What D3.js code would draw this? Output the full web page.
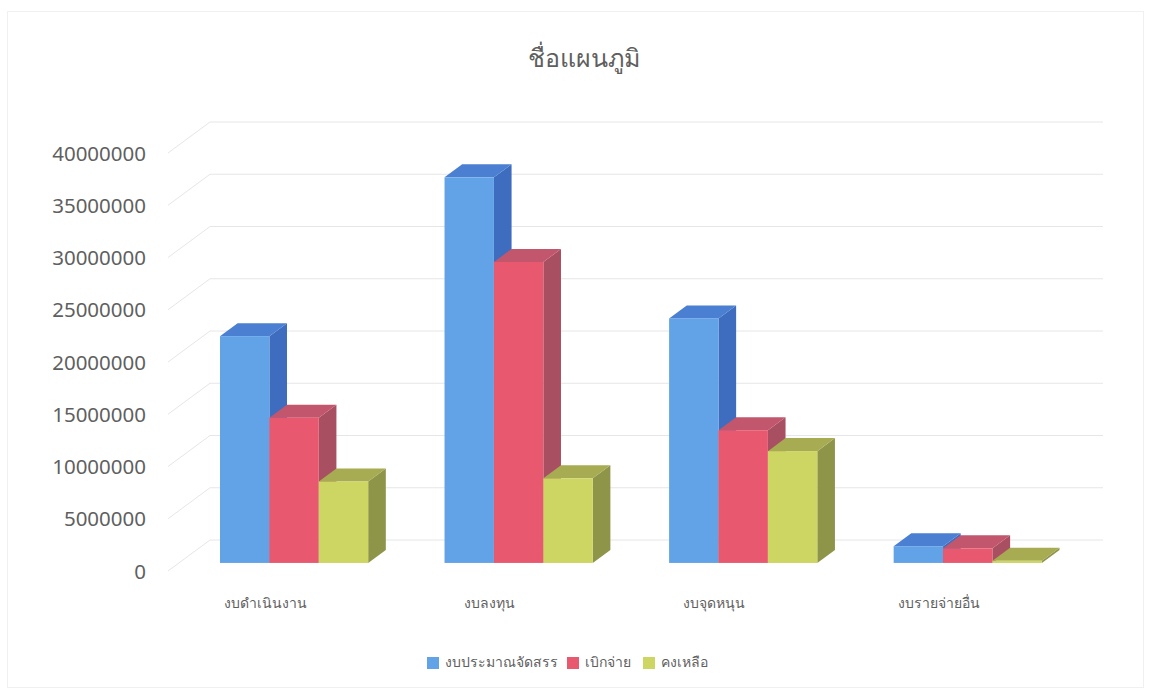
<!DOCTYPE html>
<html>
<head>
<meta charset="utf-8">
<script src="https://cdn.jsdelivr.net/npm/d3@7"></script>
<style>
  body { margin: 0; background: #fff; }
  text { font-family: "Noto Sans", "DejaVu Sans", sans-serif; fill: #5f5f5f; }
</style>
</head>
<body>
<div class="barchart"></div>
<script>
const categories = ['งบดำเนินงาน', 'งบลงทุน', 'งบจุดหนุน', 'งบรายจ่ายอื่น'];
const seriesNames = ['งบประมาณจัดสรร', 'เบิกจ่าย', 'คงเหลือ'];
const allocated = [21700000, 36900000, 23400000, 1600000];
const disbursed = [13900000, 28800000, 12700000, 1400000];
const remaining = [7800000, 8100000, 10700000, 200000];
const yTicks = [0, 5000000, 10000000, 15000000, 20000000, 25000000, 30000000, 35000000, 40000000];

const colors = [
    { front: '#62a3e8', top: '#4a7fd2', side: '#3e6dc0' },
    { front: '#e8596f', top: '#c2566c', side: '#a94f62' },
    { front: '#cdd563', top: '#a7ab52', side: '#8f9548' }
];

const width = 1151, height = 695;
const svg = d3.select('.barchart').append('svg')
    .attr('width', width)
    .attr('height', height);

// faint frame of the chart area
svg.append('rect')
    .attr('x', 7.5).attr('y', 11.5)
    .attr('width', 1136).attr('height', 676)
    .attr('fill', 'none')
    .attr('stroke', '#f0f0f0');

// 3D depth vector (front floor edge -> back wall)
const depth = { dx: 42, dy: -31 };
const barFront = 0.26, barBack = 0.68;

const y = d3.scaleLinear()
    .domain([0, 40000000])
    .range([571, 153]);

const x0 = d3.scaleBand()
    .domain(categories)
    .range([172, 1068])
    .paddingInner(0.34)
    .paddingOuter(0.165);

const x1 = d3.scaleBand()
    .domain(seriesNames)
    .range([0, x0.bandwidth()]);

const gridX0 = 168, gridX1 = 1061;

// gridlines: short slanted floor part + back wall line
const grid = svg.append('g').attr('stroke', '#e6e6e6').attr('fill', 'none');
yTicks.forEach(t => {
    grid.append('path')
        .attr('d', `M${gridX0},${y(t)} L${gridX0 + depth.dx},${y(t) + depth.dy} L${gridX1 + depth.dx},${y(t) + depth.dy}`);
});

// y axis labels
svg.append('g').selectAll('text')
    .data(yTicks)
    .join('text')
    .attr('x', 146)
    .attr('y', d => y(d) + 2)
    .attr('text-anchor', 'end')
    .attr('dominant-baseline', 'middle')
    .style('font-size', '20.5px')
    .text(d => d);

// bars
const series = [allocated, disbursed, remaining];
const ox = depth.dx * barFront, oy = depth.dy * barFront;
const ddx = depth.dx * (barBack - barFront), ddy = depth.dy * (barBack - barFront);

categories.forEach((cat, ci) => {
    const g = svg.append('g');
    series.forEach((vals, si) => {
        const c = colors[si];
        const bx = x0(cat) + x1(seriesNames[si]) + ox;
        const bw = x1.bandwidth();
        const yt = y(vals[ci]) + oy;
        const yb = y(0) + oy;
        // side face
        g.append('path')
            .attr('d', `M${bx + bw},${yt} L${bx + bw + ddx},${yt + ddy} L${bx + bw + ddx},${yb + ddy} L${bx + bw},${yb} Z`)
            .attr('fill', c.side);
        // top face
        g.append('path')
            .attr('d', `M${bx},${yt} L${bx + bw},${yt} L${bx + bw + ddx},${yt + ddy} L${bx + ddx},${yt + ddy} Z`)
            .attr('fill', c.top);
        // front face
        g.append('rect')
            .attr('x', bx).attr('y', yt)
            .attr('width', bw).attr('height', Math.max(0.5, yb - yt))
            .attr('fill', c.front);
    });
});

// category labels
svg.append('g').selectAll('text')
    .data(categories)
    .join('text')
    .attr('x', d => x0(d) + x0.bandwidth() / 2 - 18)
    .attr('y', 604)
    .attr('text-anchor', 'middle')
    .attr('dominant-baseline', 'middle')
    .style('font-size', '14px')
    .text(d => d);

// title
svg.append('text')
    .attr('x', 584)
    .attr('y', 60)
    .attr('text-anchor', 'middle')
    .attr('dominant-baseline', 'middle')
    .style('font-size', '25px')
    .text('ชื่อแผนภูมิ');

// legend
const legendX = [427, 567, 643];
const legend = svg.append('g');
seriesNames.forEach((name, i) => {
    legend.append('rect')
        .attr('x', legendX[i]).attr('y', 657)
        .attr('width', 12).attr('height', 12)
        .attr('fill', colors[i].front);
    legend.append('text')
        .attr('x', legendX[i] + 18)
        .attr('y', 663)
        .attr('dominant-baseline', 'middle')
        .style('font-size', '14px')
        .text(name);
});
</script>
</body>
</html>
